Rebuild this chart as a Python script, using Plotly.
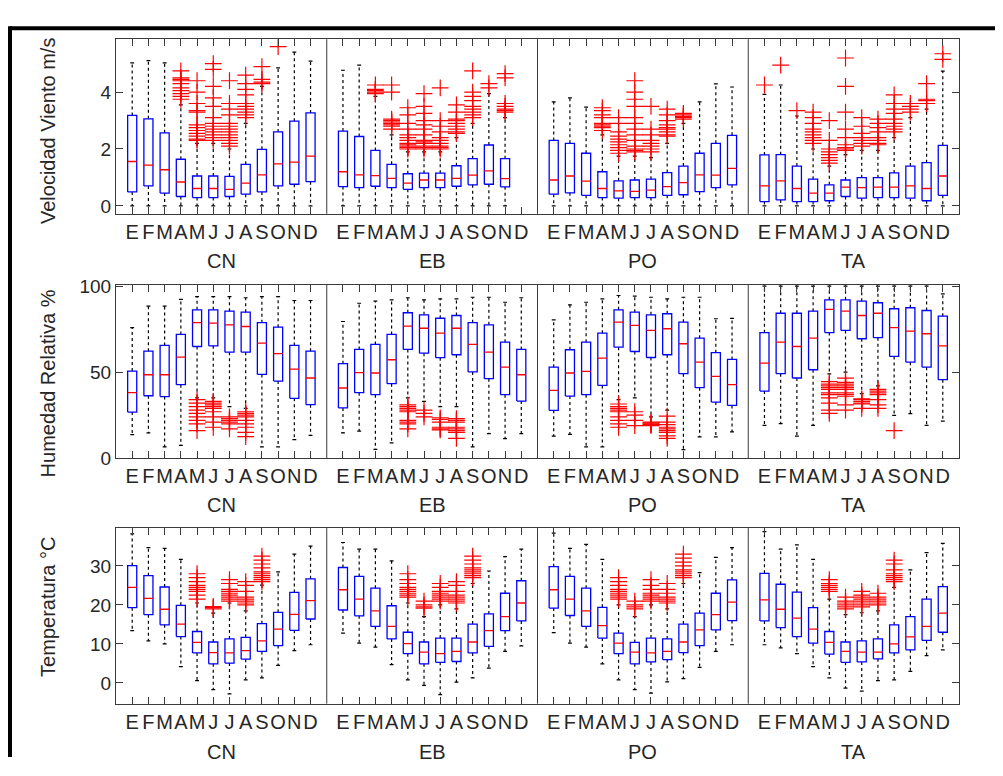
import plotly.graph_objects as go

# ---------------- DATA ----------------
months = ['E', 'F', 'M', 'A', 'M', 'J', 'J', 'A', 'S', 'O', 'N', 'D']
stations = ['CN', 'EB', 'PO', 'TA']

# Wind speed (m/s)
wind_CN_lo = [0.0, 0.0, 0.0, 0.0, 0.0, 0.0, 0.0, 0.0, 0.0, 0.0, 0.0, 0.0]
wind_CN_q1 = [0.49, 0.70, 0.45, 0.33, 0.29, 0.29, 0.33, 0.41, 0.49, 0.70, 0.76, 0.85]
wind_CN_med = [1.56, 1.43, 1.27, 0.84, 0.61, 0.61, 0.58, 0.80, 1.09, 1.48, 1.54, 1.75]
wind_CN_q3 = [3.18, 3.06, 2.57, 1.64, 1.05, 1.05, 1.04, 1.46, 1.99, 2.60, 2.98, 3.27]
wind_CN_hi = [5.03, 5.11, 5.03, 3.55, 2.20, 2.20, 2.00, 2.90, 4.20, 4.85, 5.41, 5.09]
wind_CN_out = [[], [], [],
               [3.75, 3.85, 3.95, 4.05, 4.15, 4.3, 4.4, 4.45, 4.5, 4.75],
               [2.3, 2.35, 2.45, 2.55, 2.65, 2.75, 2.85, 3.3, 3.35, 3.6, 4.0, 4.4],
               [2.3, 2.4, 2.5, 2.6, 2.7, 2.8, 2.9, 3.1, 3.5, 3.8, 4.2, 4.8, 5.0],
               [2.1, 2.2, 2.3, 2.4, 2.5, 2.6, 2.7, 2.8, 2.9, 3.2, 3.4, 3.6, 4.4],
               [3.1, 3.2, 3.3, 3.4, 3.5, 3.6, 3.9, 4.1, 4.3, 4.6],
               [4.3, 4.35, 4.45, 4.9],
               [5.6], [], []]

wind_EB_lo = [0.0, 0.0, 0.0, 0.0, 0.0, 0.0, 0.0, 0.0, 0.0, 0.0, 0.0, None]
wind_EB_q1 = [0.68, 0.64, 0.69, 0.64, 0.58, 0.64, 0.64, 0.69, 0.74, 0.76, 0.67, None]
wind_EB_med = [1.20, 1.09, 1.06, 0.97, 0.80, 0.91, 0.91, 0.97, 1.08, 1.23, 0.96, None]
wind_EB_q3 = [2.63, 2.44, 1.95, 1.46, 1.13, 1.15, 1.15, 1.41, 1.66, 2.14, 1.66, None]
wind_EB_hi = [4.77, 4.95, 3.85, 2.50, 1.90, 1.90, 1.90, 2.40, 2.90, 3.95, 3.10, None]
wind_EB_out = [[], [],
               [3.95, 4.0, 4.05, 4.1, 4.25],
               [2.7, 2.8, 2.85, 2.9, 2.95, 3.0, 3.05, 4.0, 4.25],
               [2.0, 2.05, 2.1, 2.15, 2.2, 2.3, 2.4, 2.5, 2.7, 2.9, 3.2, 3.45],
               [2.0, 2.05, 2.1, 2.2, 2.25, 2.3, 2.5, 2.7, 2.85, 3.0, 3.25, 3.5, 3.95],
               [2.0, 2.05, 2.1, 2.2, 2.3, 2.4, 2.6, 2.8, 3.0, 4.15],
               [2.55, 2.6, 2.7, 2.8, 2.9, 3.0, 3.05, 3.3, 3.55],
               [3.1, 3.2, 3.3, 3.4, 3.5, 3.7, 3.85, 4.0, 4.75],
               [4.15, 4.3],
               [3.3, 3.35, 3.4, 3.5, 3.6, 4.5, 4.65],
               []]

wind_PO_lo = [0.0, 0.0, 0.0, 0.0, 0.0, 0.0, 0.0, 0.0, 0.0, 0.0, 0.0, 0.0]
wind_PO_q1 = [0.41, 0.46, 0.37, 0.29, 0.27, 0.29, 0.29, 0.37, 0.39, 0.50, 0.64, 0.74]
wind_PO_med = [0.91, 1.05, 0.87, 0.61, 0.53, 0.51, 0.55, 0.68, 0.82, 1.09, 1.08, 1.32]
wind_PO_q3 = [2.30, 2.20, 1.85, 1.20, 0.88, 0.91, 0.94, 1.17, 1.40, 1.85, 2.20, 2.48]
wind_PO_hi = [3.66, 3.80, 3.47, 2.50, 1.75, 1.75, 1.70, 2.20, 2.90, 3.66, 4.29, 4.18]
wind_PO_out = [[], [], [],
               [2.65, 2.75, 2.8, 2.85, 2.9, 3.1, 3.2, 3.35, 3.45],
               [1.85, 1.95, 2.05, 2.15, 2.25, 2.35, 2.45, 2.6, 2.9, 3.1],
               [1.9, 1.95, 2.0, 2.1, 2.3, 2.5, 2.7, 2.9, 3.1, 3.5, 3.75, 4.0, 4.4],
               [1.9, 2.0, 2.1, 2.2, 2.3, 2.5, 2.7, 3.5],
               [2.45, 2.5, 2.6, 2.7, 2.75, 2.85, 3.0, 3.2, 3.4],
               [3.05, 3.1, 3.15, 3.2, 3.25],
               [], [], []]

wind_TA_lo = [0.0, 0.0, 0.0, 0.0, 0.0, 0.0, 0.0, 0.0, 0.0, 0.0, 0.0, 0.0]
wind_TA_q1 = [0.15, 0.21, 0.15, 0.15, 0.18, 0.33, 0.27, 0.29, 0.29, 0.27, 0.18, 0.37]
wind_TA_med = [0.70, 0.88, 0.61, 0.45, 0.45, 0.66, 0.64, 0.66, 0.66, 0.70, 0.61, 1.05]
wind_TA_q3 = [1.79, 1.80, 1.40, 0.94, 0.74, 0.91, 0.99, 0.99, 1.16, 1.40, 1.52, 2.13]
wind_TA_hi = [3.92, 4.25, 3.16, 2.00, 1.40, 1.80, 1.95, 1.95, 2.40, 3.10, 3.40, 4.74]
wind_TA_out = [[4.25], [4.95], [3.35],
               [2.2, 2.3, 2.4, 2.5, 2.6, 2.7, 2.9, 3.1, 3.3],
               [1.5, 1.6, 1.7, 1.8, 1.9, 2.0, 2.3, 3.0],
               [1.95, 2.0, 2.05, 2.15, 2.4, 2.7, 3.3, 4.2, 5.2],
               [2.1, 2.2, 2.3, 2.4, 2.55, 2.8, 3.1],
               [2.15, 2.2, 2.3, 2.4, 2.6, 2.75, 2.9, 3.05],
               [2.6, 2.7, 2.8, 2.9, 3.05, 3.25, 3.4, 3.6, 3.9],
               [3.3, 3.4, 3.5, 3.6],
               [3.6, 3.7, 3.75, 4.3],
               [5.15, 5.35]]

# Relative humidity (%)
hum_CN_lo = [13.7, 14.7, 6.6, 7.5, 35.0, 35.0, 30.0, 29.0, 6.6, 6.6, 10.8, 13.3]
hum_CN_q1 = [26.8, 36.3, 35.8, 42.7, 64.9, 65.3, 61.6, 61.6, 48.7, 44.8, 34.8, 31.1]
hum_CN_med = [38.1, 48.5, 48.5, 58.7, 78.7, 78.5, 77.5, 76.5, 66.9, 60.7, 51.8, 46.6]
hum_CN_q3 = [50.6, 62.2, 65.5, 71.9, 86.2, 86.2, 85.4, 84.8, 78.7, 76.1, 65.5, 62.2]
hum_CN_hi = [75.8, 88.3, 88.3, 92.2, 93.9, 93.9, 93.9, 93.2, 93.9, 93.9, 91.6, 91.6]
hum_CN_out = [[], [], [], [],
              [16, 20, 22, 24, 26, 28, 30, 32, 34],
              [18, 21, 24, 27, 29, 30, 31, 32, 33],
              [17, 20, 21, 22, 23, 24],
              [12.5, 15, 18, 20, 22, 24, 25, 26, 27],
              [], [], [], []]

hum_EB_lo = [14.7, 15.8, 5.2, 8.9, 35.0, 33.0, 30.0, 30.0, 6.6, 14.3, 11.4, 14.3]
hum_EB_q1 = [29.2, 38.1, 36.9, 43.3, 63.2, 61.0, 58.4, 60.1, 50.1, 46.2, 36.9, 33.2]
hum_EB_med = [40.8, 49.7, 49.5, 57.2, 76.7, 75.5, 72.6, 75.5, 66.1, 61.6, 52.9, 48.5]
hum_EB_q3 = [54.9, 63.2, 66.1, 71.9, 84.5, 83.3, 81.3, 82.9, 78.7, 77.5, 67.4, 63.2]
hum_EB_hi = [79.4, 90.0, 91.2, 92.0, 93.2, 92.0, 92.6, 92.6, 93.5, 93.5, 90.6, 93.2]
hum_EB_out = [[], [], [], [],
              [17, 20, 21, 22, 27, 28, 29, 30, 31],
              [24, 26, 28],
              [16.5, 17, 18, 21, 22.5, 23.5],
              [11.5, 15, 16, 17, 18, 21, 22, 23],
              [], [], [], []]

hum_PO_lo = [12.8, 13.9, 6.6, 6.6, 34.0, 35.0, 24.0, 28.0, 5.0, 12.4, 12.4, 15.3]
hum_PO_q1 = [27.8, 36.1, 36.9, 42.3, 64.5, 62.0, 58.5, 60.1, 49.1, 41.0, 32.6, 30.7]
hum_PO_med = [39.4, 49.5, 50.4, 58.1, 79.0, 77.1, 74.2, 75.2, 66.5, 55.8, 47.5, 42.7]
hum_PO_q3 = [52.9, 63.0, 67.4, 72.6, 86.2, 84.8, 83.3, 83.9, 79.0, 69.7, 61.3, 57.4]
hum_PO_hi = [80.4, 89.1, 90.6, 92.6, 94.5, 94.2, 93.5, 92.6, 93.5, 93.5, 81.0, 81.2]
hum_PO_out = [[], [], [], [],
              [18, 20, 22, 24, 27, 28, 29, 30, 31.5],
              [19, 22, 25, 27],
              [19, 19.5, 20, 20.5, 21],
              [11.5, 13, 15, 16, 17, 18, 19.5, 21, 24.5],
              [], [], [], []]

hum_TA_lo = [19.1, 20.1, 12.9, 19.1, 49.0, 50.0, 37.5, 42.0, 24.9, 25.9, 19.1, 21.6]
hum_TA_q1 = [39.0, 49.1, 46.6, 51.4, 73.0, 74.2, 69.4, 70.0, 59.1, 55.8, 52.9, 45.6]
hum_TA_med = [55.2, 67.4, 64.9, 69.7, 86.4, 85.4, 82.9, 84.2, 75.8, 73.8, 72.3, 65.3]
hum_TA_q3 = [72.9, 84.2, 84.2, 85.4, 92.0, 92.0, 91.2, 90.3, 86.8, 87.4, 85.8, 82.5]
hum_TA_hi = [100.0, 100.0, 100.0, 100.0, 100.0, 100.0, 100.0, 100.0, 100.0, 100.0, 100.0, 95.5]
hum_TA_out = [[], [], [], [],
              [26, 28, 32, 35, 37, 38, 40, 41, 42, 43, 44.5],
              [28, 31, 36, 37, 38, 40, 41, 42, 43, 44, 46.5],
              [29, 31.5, 32, 33, 34, 34.5],
              [29, 31, 34, 37, 38, 39, 40],
              [16], [], [], []]

# Temperature (°C)
temp_CN_lo = [13.4, 10.8, 10.0, 4.2, 0.6, -1.7, -2.8, 0.8, 1.3, 4.5, 8.3, 9.8]
temp_CN_q1 = [19.3, 17.5, 14.9, 11.9, 7.7, 4.9, 5.1, 6.1, 8.1, 9.6, 13.5, 16.4]
temp_CN_med = [24.5, 21.7, 18.9, 15.1, 10.4, 7.8, 7.7, 8.3, 10.8, 13.8, 17.6, 21.1]
temp_CN_q3 = [30.1, 27.5, 24.6, 19.9, 13.2, 10.5, 11.3, 11.7, 15.2, 18.1, 23.2, 26.7]
temp_CN_hi = [38.2, 34.7, 34.5, 31.7, 20.5, 17.9, 20.5, 18.5, 25.1, 28.5, 33.0, 35.1]
temp_CN_out = [[], [], [], [],
               [21.5, 22.5, 23.5, 24, 24.5, 25, 26, 27, 28],
               [19, 19.3, 19.6],
               [21, 21.5, 22, 22.5, 23, 23.5, 24, 25.5, 26.5],
               [20, 20.5, 21, 21.5, 22, 23.5, 25, 26],
               [26, 26.5, 27, 27.5, 28, 28.5, 29.5, 30.5, 31.5, 32.5],
               [], [], []]

temp_EB_lo = [12.8, 10.2, 9.2, 4.7, 0.8, -0.6, -3.0, 0.2, 1.3, 3.8, 8.1, 9.5]
temp_EB_q1 = [18.7, 17.2, 14.5, 11.3, 7.5, 4.9, 5.3, 5.5, 7.7, 9.4, 13.4, 15.9]
temp_EB_med = [23.9, 21.5, 18.5, 14.5, 10.1, 7.9, 7.5, 8.1, 10.5, 13.4, 17.0, 20.5]
temp_EB_q3 = [29.6, 27.3, 24.3, 19.8, 13.0, 10.5, 11.5, 11.5, 15.1, 17.7, 23.0, 26.2]
temp_EB_hi = [36.0, 34.3, 34.3, 31.3, 20.5, 17.0, 20.0, 19.0, 25.5, 28.7, 32.4, 34.3]
temp_EB_out = [[], [], [], [],
               [22, 22.5, 23, 23.5, 24, 24.5, 25.5, 26.5, 28],
               [19.2, 19.5, 20, 21],
               [21, 21.5, 22, 22.5, 23, 23.5, 24.5, 25.5],
               [20.5, 21, 21.5, 22, 22.5, 23.5, 25, 26],
               [27, 27.5, 28, 28.5, 29, 29.5, 30.5, 31.5, 32.5],
               [], [], []]

temp_PO_lo = [12.9, 10.2, 9.2, 4.9, 0.8, -1.7, -2.6, 0.3, 1.1, 4.0, 8.1, 9.8]
temp_PO_q1 = [19.2, 17.3, 14.5, 11.5, 7.5, 4.9, 5.4, 6.0, 7.8, 9.6, 13.6, 16.0]
temp_PO_med = [23.9, 21.5, 18.5, 14.7, 10.2, 7.9, 7.7, 8.1, 10.5, 13.6, 17.5, 20.7]
temp_PO_q3 = [29.8, 27.3, 24.3, 19.4, 12.8, 10.4, 11.5, 11.3, 15.1, 17.9, 23.0, 26.4]
temp_PO_hi = [38.4, 34.5, 35.5, 31.7, 20.0, 17.0, 20.0, 19.0, 25.5, 28.3, 32.2, 34.7]
temp_PO_out = [[], [], [], [],
               [21.5, 22, 22.5, 23, 23.5, 24, 25, 26, 27],
               [19, 19.5, 20, 21],
               [21, 21.5, 22, 22.5, 23, 24, 25, 26.5],
               [20.5, 21, 21.5, 22, 23, 24, 25.5],
               [27, 27.5, 28, 28.5, 29, 30, 31, 32, 33],
               [], [], []]

temp_TA_lo = [9.8, 9.0, 7.5, 4.2, 1.3, -1.3, -2.1, 0.6, 0.8, 3.0, 7.0, 8.5]
temp_TA_q1 = [15.9, 14.2, 11.9, 10.2, 7.4, 5.3, 5.4, 6.2, 7.7, 8.5, 10.9, 13.0]
temp_TA_med = [21.3, 18.9, 16.6, 13.8, 10.4, 8.1, 7.9, 7.9, 10.0, 11.8, 14.5, 17.9]
temp_TA_q3 = [28.1, 25.3, 23.3, 19.3, 13.2, 10.5, 10.8, 11.3, 14.9, 17.0, 21.5, 24.7]
temp_TA_hi = [38.8, 34.3, 35.4, 31.7, 21.5, 17.5, 18.0, 18.5, 24.5, 29.0, 33.4, 35.8]
temp_TA_out = [[], [], [], [],
               [23.5, 24, 24.5, 25, 25.5, 26.5],
               [19, 19.5, 20, 20.5, 21, 22],
               [19.5, 20, 20.5, 21, 21.5, 22, 22.5, 23.5],
               [20, 20.5, 21, 21.5, 22, 23],
               [26, 26.5, 27, 27.5, 28, 29, 30.5, 31.5],
               [], [], []]

# ---------------- BUILD ----------------
G = globals()
OFF = 8
FW, FH = 1003 - 2 * OFF, 776 - 2 * OFF
# vertical calibration (observed page placement)
Y0, YS = 7.9, 0.976


def fx(p):   # target pixel x -> paper x
    return (p - OFF) / FW


def fy(p):   # target pixel y -> paper y
    q = (p - Y0) / YS
    return 1 - (q - OFF) / FH


rows = [
    dict(key='wind', ydom=(38, 213), yrange=[-0.28, 5.86], ytick=[0, 2, 4],
         title='Velocidad Viento m/s', title_y=130, label_y=260),
    dict(key='hum', ydom=(284, 458), yrange=[0, 100.8], ytick=[0, 50, 100],
         title='Humedad Relativa %', title_y=383, label_y=505),
    dict(key='temp', ydom=(528, 704), yrange=[-5.3, 39.7], ytick=[0, 10, 20, 30],
         title='Temperatura °C', title_y=607, label_y=752),
]

BW = 0.28   # half box width (in month units)
CW = 0.12   # half cap width
FONT = 'Liberation Sans, Arial, sans-serif'
AXC = '#3a3a3a'
TXT = '#262626'

fig = go.Figure()
tickvals, ticktext = [], []
for p in range(4):
    for m in range(12):
        tickvals.append(p * 13 + m + 1)
        ticktext.append(months[m])

shapes, annotations = [], []
for i, r in enumerate(rows):
    sfx = '' if i == 0 else str(i + 1)
    xa, ya = 'x' + sfx, 'y' + sfx
    bx, by, mx, my, wx, wy, cx, cy, ox, oy = ([] for _ in range(10))
    for p, st in enumerate(stations):
        k = r['key'] + '_' + st + '_'
        lo, q1, med, q3, hi, out = (G[k + s] for s in ('lo', 'q1', 'med', 'q3', 'hi', 'out'))
        for m in range(12):
            if q1[m] is None:
                continue
            xc = p * 13 + m + 1
            bx += [xc - BW, xc + BW, xc + BW, xc - BW, xc - BW, None]
            by += [q1[m], q1[m], q3[m], q3[m], q1[m], None]
            mx += [xc - BW, xc + BW, None]
            my += [med[m], med[m], None]
            wx += [xc, xc, None, xc, xc, None]
            wy += [q3[m], hi[m], None, q1[m], lo[m], None]
            cx += [xc - CW, xc + CW, None, xc - CW, xc + CW, None]
            cy += [hi[m], hi[m], None, lo[m], lo[m], None]
            for v in out[m]:
                ox.append(xc)
                oy.append(v)
    fig.add_trace(go.Scatter(x=wx, y=wy, mode='lines', xaxis=xa, yaxis=ya,
                             line=dict(color='black', width=1.2, dash='3px,3px'), hoverinfo='skip'))
    fig.add_trace(go.Scatter(x=cx, y=cy, mode='lines', xaxis=xa, yaxis=ya,
                             line=dict(color='black', width=1.2), hoverinfo='skip'))
    fig.add_trace(go.Scatter(x=bx, y=by, mode='lines', xaxis=xa, yaxis=ya,
                             line=dict(color='#0000ff', width=1.3), hoverinfo='skip'))
    fig.add_trace(go.Scatter(x=mx, y=my, mode='lines', xaxis=xa, yaxis=ya,
                             line=dict(color='#ff0000', width=1.3), hoverinfo='skip'))
    fig.add_trace(go.Scatter(x=ox, y=oy, mode='markers', xaxis=xa, yaxis=ya,
                             marker=dict(symbol='cross-thin', size=12,
                                         line=dict(color='#ff0000', width=1.2)),
                             hoverinfo='skip'))

    y0, y1 = r['ydom']
    fig.update_layout(**{
        'xaxis' + sfx: dict(domain=[fx(116), fx(959)], range=[0, 52], anchor=ya,
                            tickvals=tickvals, ticktext=ticktext, tickangle=0,
                            ticks='inside', ticklen=7,
                            tickcolor=AXC, mirror='ticks', showline=True, linecolor=AXC,
                            linewidth=1, showgrid=False, zeroline=False,
                            tickfont=dict(family=FONT, size=20, color=TXT)),
        'yaxis' + sfx: dict(domain=[fy(y1), fy(y0)], range=r['yrange'], anchor=xa,
                            tickvals=r['ytick'], ticks='inside', ticklen=7, tickcolor=AXC,
                            mirror='ticks', showline=True, linecolor=AXC, linewidth=1,
                            showgrid=False, zeroline=False,
                            tickfont=dict(family=FONT, size=19, color=TXT)),
    })
    for d in (13, 26, 39):
        shapes.append(dict(type='line', xref=xa, yref=ya + ' domain', x0=d, x1=d, y0=0, y1=1,
                           line=dict(color=AXC, width=1)))
    for p, st in enumerate(stations):
        annotations.append(dict(xref=xa, yref='paper', x=p * 13 + 6.5, y=fy(r['label_y']),
                                text=st, showarrow=False, yanchor='middle',
                                font=dict(family=FONT, size=20, color=TXT)))
    annotations.append(dict(xref='paper', yref='paper', x=fx(48), y=fy(r['title_y']),
                            text=r['title'], textangle=-90, showarrow=False,
                            xanchor='center', yanchor='middle',
                            font=dict(family=FONT, size=20, color=TXT)))

# outer frame (thick black lines at top and left)
shapes.append(dict(type='line', xref='paper', yref='paper', x0=fx(10), x1=1, y0=fy(27), y1=fy(27),
                   line=dict(color='black', width=4)))
shapes.append(dict(type='line', xref='paper', yref='paper', x0=fx(10), x1=fx(10), y0=fy(25), y1=0,
                   line=dict(color='black', width=4)))

fig.update_layout(width=FW, height=FH, autosize=False, margin=dict(l=0, r=0, t=0, b=0),
                  paper_bgcolor='white', plot_bgcolor='white', showlegend=False,
                  shapes=shapes, annotations=annotations)

fig.write_html('out.html', config={'displayModeBar': False})
